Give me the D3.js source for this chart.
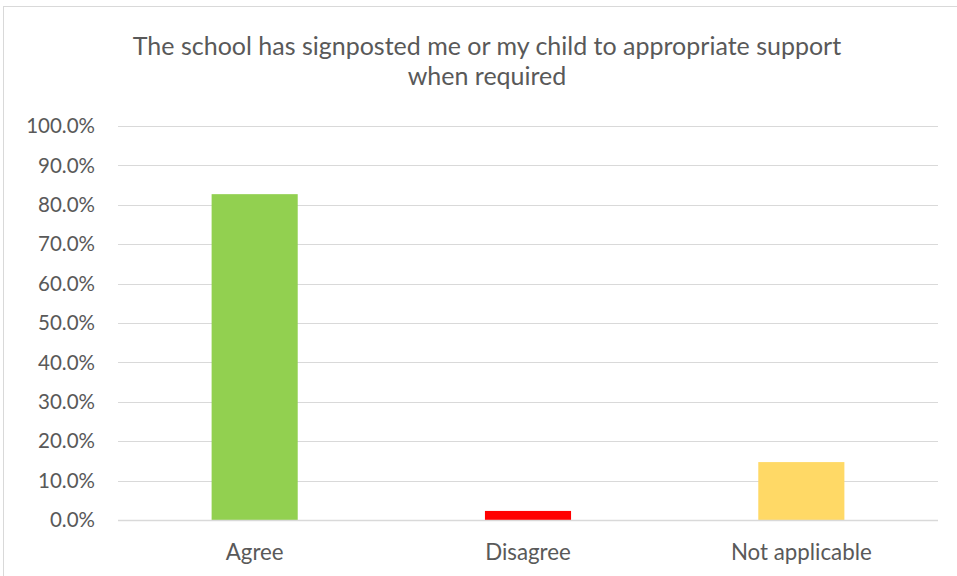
<!DOCTYPE html>
<html><head><meta charset="utf-8">
<script src="https://cdn.jsdelivr.net/npm/d3@7"></script>
<style>body{margin:0;background:#fff}svg{display:block}text{font-family:Lato,"Open Sans",sans-serif;fill:#595959}</style>
</head><body><svg id="c" width="957" height="576"></svg>
<script>
const categories = ["Agree", "Disagree", "Not applicable"];
const values = [0.827, 0.023, 0.147];
const colors = ["#92d050", "#ff0000", "#ffd966"];
const yTicks = [0, 0.1, 0.2, 0.3, 0.4, 0.5, 0.6, 0.7, 0.8, 0.9, 1.0];
const titleLines = ["The school has signposted me or my child to appropriate support", "when required"];

const svg = d3.select("#c");
svg.append("rect").attr("x", 3.5).attr("y", 6.5).attr("width", 1000).attr("height", 600)
  .attr("fill", "#fff").attr("stroke", "#d9d9d9");

const m = {left: 118, right: 938, top: 126, bottom: 520};
const x = d3.scaleBand().domain(categories).range([m.left, m.right]).padding(0);
const y = d3.scaleLinear().domain([0, 1]).range([m.bottom, m.top]);

svg.append("g").selectAll("line").data(yTicks).join("line")
  .attr("x1", m.left).attr("x2", m.right)
  .attr("y1", d => Math.round(y(d)) + 0.5).attr("y2", d => Math.round(y(d)) + 0.5)
  .attr("stroke", "#d9d9d9").attr("stroke-width", 1);

const bw = x.bandwidth() * 0.315;
svg.append("g").selectAll("rect").data(categories).join("rect")
  .attr("x", d => x(d) + x.bandwidth() / 2 - bw / 2)
  .attr("width", bw)
  .attr("y", (d, i) => y(values[i]))
  .attr("height", (d, i) => y(0) - y(values[i]))
  .attr("fill", (d, i) => colors[i]);

svg.append("line").attr("x1", m.left).attr("x2", m.right)
  .attr("y1", y(0) + 0.5).attr("y2", y(0) + 0.5).attr("stroke", "#d9d9d9").attr("stroke-width", 1.5);

svg.append("g").selectAll("text").data(yTicks).join("text")
  .attr("x", 95).attr("y", d => y(d)).attr("dy", "0.35em")
  .attr("text-anchor", "end").attr("font-size", 20.5)
  .text(d => d3.format(".1%")(d));

svg.append("g").selectAll("text").data(categories).join("text")
  .attr("x", d => x(d) + x.bandwidth() / 2).attr("y", 552).attr("dy", "0.35em")
  .attr("text-anchor", "middle").attr("font-size", 22.3)
  .text(d => d);

svg.append("g").selectAll("text").data(titleLines).join("text")
  .attr("x", 487).attr("y", (d, i) => 46 + i * 30).attr("dy", "0.35em")
  .attr("text-anchor", "middle").attr("font-size", 25)
  .text(d => d);
</script></body></html>
